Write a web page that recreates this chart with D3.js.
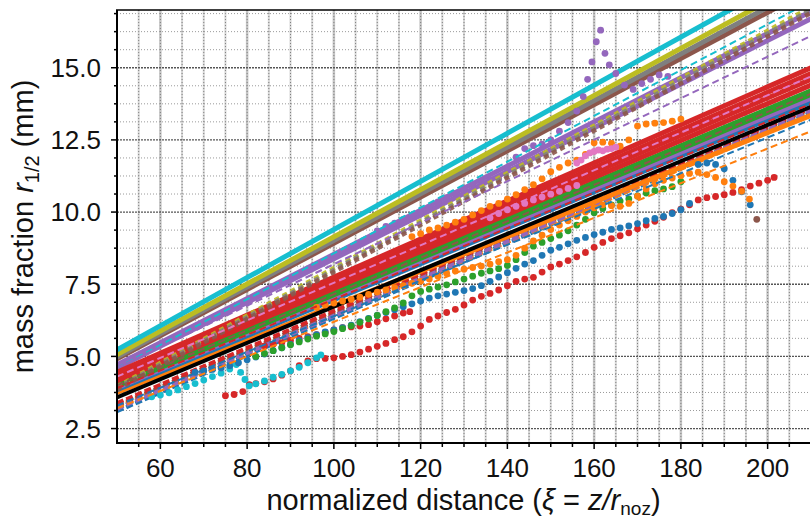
<!DOCTYPE html>
<html>
<head>
<meta charset="utf-8">
<script src="https://cdn.jsdelivr.net/npm/d3@7"></script>
<style>
  body { margin: 0; background: #fff; }
  svg { display: block; }
  text { font-family: "Liberation Sans", Arial, Helvetica, sans-serif; fill: #111; }
</style>
</head>
<body>
<div id="chart"></div>
<script>
// ---- axis ticks ----
const xTicks = [60, 80, 100, 120, 140, 160, 180, 200];
const yTicks = [2.5, 5.0, 7.5, 10.0, 12.5, 15.0];

// ---- straight fits, value of r at xi = 50 and xi = 210 ----
const fitX = [50, 210];
const solidColors = ["#9467bd", "#9467bd", "#8c564b", "#7f7f7f", "#bcbd22", "#17becf",
                     "#ff7f0e", "#1f77b4", "#9467bd", "#2ca02c", "#2ca02c",
                     "#d62728", "#d62728", "#d62728", "#d62728", "#000000"];
const solidStart  = [4.60, 4.71, 4.92, 4.98, 5.06, 5.23,
                     3.75, 3.85, 3.92, 3.98, 4.05,
                     4.15, 4.25, 4.35, 4.45, 3.58];
const solidEnd    = [16.70, 16.95, 17.72, 17.90, 18.12, 18.56,
                     13.35, 13.82, 13.95, 14.08, 14.20,
                     14.40, 14.60, 14.80, 15.00, 13.65];

// thick dashed fits, lower bundle
const thickDashColors = ["#1f77b4", "#2ca02c", "#ff7f0e", "#8c564b", "#d62728", "#9467bd"];
const thickDashStart  = [3.10, 3.20, 3.25, 3.30, 3.38, 3.18];
const thickDashEnd    = [13.45, 13.50, 13.40, 13.55, 13.60, 13.50];

// thick dotted fits, upper bundle
const dotFitColors = ["#bcbd22", "#7f7f7f", "#8c564b"];
const dotFitStart  = [3.95, 3.90, 3.85];
const dotFitEnd    = [17.10, 17.00, 16.90];

// thin dashed fits
const thinDashColors = ["#17becf", "#9467bd", "#1f77b4", "#ff7f0e", "#8c564b", "#e377c2", "#d62728"];
const thinDashStart  = [4.60, 4.60, 3.30, 3.20, 4.00, 4.30, 3.90];
const thinDashEnd    = [17.30, 16.10, 13.20, 12.80, 14.10, 14.70, 13.75];

// ---- measured profiles (xi, r) ----
const redLow = [[75,3.64],[77,3.68],[79,3.78],[80.5,4.02],[82,4.06],[84,4.12],[86,4.22],[88,4.35],[90,4.5],[92,4.68],[94,4.84],[96,4.92],[98,4.93],[100,4.95],[102,5.0],[104,5.06],[106,5.15],[108,5.25],[110,5.35],[112,5.45],[114,5.58],[116,5.68],[118,5.85],[120,6.05],[122,6.28],[124,6.4],[126,6.52],[128,6.63],[130,6.78],[132,6.95],[134,7.08],[136,7.18],[138,7.3],[140,7.45],[142,7.6],[144,7.68],[146,7.74],[148,7.92],[150,8.1],[152,8.2],[154,8.32],[156,8.45],[158,8.6],[160,8.78],[162,8.95],[164,9.08],[166,9.18],[168,9.28],[170,9.42],[172,9.55],[174,9.68],[176,9.82],[178,9.98],[180,10.1],[182,10.25],[184,10.42],[186,10.5],[188,10.54],[190,10.6],[192,10.68],[194,10.78],[196,10.9],[198,11.0],[200,11.1],[201.5,11.2]];
const redHigh = [[84,5.36],[86,5.42],[88,5.48],[90,5.55],[92,5.62],[94,5.68],[96,5.75],[98,5.83],[100,5.92],[102,6.0],[104,6.02],[106,6.05],[108,6.1],[110,6.2],[112,6.3],[114,6.4],[116,6.5],[117.5,6.55]];
const cyanPts = [[58,3.6],[60,3.66],[62,3.74],[64,3.84],[66,3.95],[68,4.06],[70,4.18],[72,4.3],[74,4.42],[76,4.56],[77.5,4.72],[78.5,4.45],[79.5,4.2],[80.5,3.98],[82,4.05],[84,4.15],[86,4.28],[88,4.38],[90,4.5],[92,4.62],[94,4.78],[96,4.95],[97,5.05]];
const bluePts = [[68,4.45],[70,4.5],[72,4.55],[74,4.6],[76,4.68],[78,4.78],[80,4.88],[82,4.98],[84,5.08],[86,5.2],[88,5.3],[90,5.42],[92,5.55],[94,5.65],[96,5.75],[98,5.85],[100,5.92],[102,6.0],[104,6.08],[106,6.2],[108,6.32],[110,6.42],[112,6.52],[114,6.62],[116,6.72],[118,6.82],[120,6.92],[122,7.02],[124,7.1],[126,7.16],[128,7.22],[130,7.28],[132,7.35],[134,7.45],[136,7.6],[138,7.75],[140,7.9],[142,8.05],[144,8.2],[146,8.32],[148,8.5],[150,8.68],[152,8.78],[154,8.9],[156,9.02],[158,9.12],[160,9.22],[162,9.3],[164,9.4],[166,9.45],[168,9.52],[170,9.6],[172,9.7],[174,9.78],[176,9.85],[178,9.95],[180,10.08],[182,10.3],[184,11.65],[186,11.7],[188,11.65],[190,11.5],[192,11.1],[194,10.7],[196,10.25]];
const greenPts = [[82,5.0],[84,5.1],[86,5.2],[88,5.3],[90,5.4],[92,5.5],[94,5.6],[96,5.7],[98,5.78],[100,5.86],[102,5.96],[104,6.06],[106,6.18],[108,6.3],[110,6.42],[112,6.55],[114,6.68],[116,6.85],[118,7.1],[120,7.25],[122,7.33],[124,7.4],[126,7.48],[128,7.58],[130,7.68],[132,7.78],[134,7.88],[136,7.96],[138,8.04],[140,8.15],[142,8.35],[144,8.6],[146,8.82],[148,8.95],[150,9.08],[152,9.2],[154,9.35],[156,9.55],[158,9.75],[160,9.98],[162,10.12],[164,10.25],[166,10.38],[168,10.46],[170,10.56],[172,10.66],[174,10.74],[176,10.8],[178,10.88],[180,11.05]];
const orangeLow = [[96,6.7],[98,6.78],[100,6.85],[102,6.92],[104,6.98],[106,7.05],[108,7.15],[110,7.23],[112,7.3],[114,7.38],[116,7.45],[118,7.53],[120,7.6],[122,7.68],[124,7.78],[126,7.88],[128,7.96],[130,8.02],[132,8.08],[134,8.13],[136,8.2],[138,8.28],[140,8.35],[142,8.5],[144,8.75],[146,9.0],[148,9.2],[150,9.4],[152,9.55],[154,9.7],[156,9.85],[158,10.0],[160,10.15],[162,10.25],[164,10.22],[166,10.2],[168,10.3],[170,10.55],[172,10.8],[174,10.98],[176,11.1],[178,11.18],[180,11.26],[182,11.34],[184,11.38],[186,11.3],[188,11.2],[190,11.05],[192,10.9],[194,10.72],[195.8,10.45]];
const orangeHigh = [[118,9.15],[120,9.25],[122,9.38],[124,9.45],[126,9.55],[128,9.65],[130,9.75],[132,9.9],[134,10.05],[136,10.2],[138,10.3],[140,10.45],[142,10.6],[144,10.78],[146,10.95],[148,11.15],[150,11.4],[152,11.55],[154,11.7],[156,11.8],[158,12.0],[160,12.4],[162,12.42],[164,12.38],[166,12.28],[168,12.5],[170,12.98],[172,13.05],[174,13.08],[176,13.1],[178,13.15],[180,13.22]];
const purplePts = [[110,9.35],[112,9.5],[114,9.62],[116,9.75],[118,9.88],[120,10.0],[122,10.15],[124,10.35],[126,10.5],[128,10.65],[130,10.82],[132,10.95],[134,11.05],[136,11.1],[138,11.15],[140,11.5],[142,11.9],[144,12.2],[146,12.3],[148,12.35],[150,12.5],[152,12.8],[154,13.1],[156,13.5],[157.5,14.0],[158.5,14.6],[159.5,15.2],[160.5,15.9],[161.5,16.3],[162.5,15.5],[163.5,15.1],[165,14.8],[167,14.4],[169,14.25],[171,14.45],[173,14.6],[175,14.75],[177,14.7]];
const pinkLow = [[136,9.8],[138,9.95],[140,10.08],[142,10.2],[144,10.3],[146,10.42],[148,10.52],[150,10.62],[152,10.72],[154,10.82],[156,10.92]];
const pinkHigh = [[156,11.7],[157,11.8],[158,11.95],[159,12.05],[160,12.1],[161,12.15],[162,12.12],[163,12.18],[164,12.2],[165,12.25]];
const brownPts = [[197.5,9.75]];

const scatterSeries = [
  { pts: redLow, color: "#d62728" }, { pts: redHigh, color: "#d62728" },
  { pts: cyanPts, color: "#17becf" }, { pts: bluePts, color: "#1f77b4" },
  { pts: greenPts, color: "#2ca02c" }, { pts: orangeLow, color: "#ff7f0e" },
  { pts: orangeHigh, color: "#ff7f0e" }, { pts: purplePts, color: "#9467bd" },
  { pts: pinkLow, color: "#e377c2" }, { pts: pinkHigh, color: "#e377c2" },
  { pts: brownPts, color: "#8c564b" }
];

// ---- layout ----
const W = 810, H = 522;
const margin = { left: 117, top: 10, right: 0, bottom: 79 };
const x = d3.scaleLinear().domain([50, 210]).range([margin.left, 811]);
const y = d3.scaleLinear().domain([2, 17]).range([H - margin.bottom, margin.top]);

const svg = d3.select("#chart").append("svg").attr("width", W).attr("height", H);
svg.append("defs").append("clipPath").attr("id", "plotClip")
  .append("rect").attr("x", margin.left).attr("y", margin.top)
  .attr("width", W - margin.left).attr("height", H - margin.bottom - margin.top);

// grid
const grid = svg.append("g");
const xMinor = d3.range(55, 210, 5);
const yMinor = d3.range(2.5, 17, 0.625);

grid.selectAll(".vg").data(xMinor).join("line")
  .attr("x1", d => x(d)).attr("x2", d => x(d))
  .attr("y1", margin.top).attr("y2", H - margin.bottom)
  .attr("stroke", d => d % 20 === 0 ? "#c4c4c4" : "#d6d6d6")
  .attr("stroke-width", d => d % 20 === 0 ? 2.5 : 2);
grid.selectAll(".vgd").data(xMinor).join("line")
  .attr("x1", d => x(d)).attr("x2", d => x(d))
  .attr("y1", margin.top).attr("y2", H - margin.bottom)
  .attr("stroke", "#808080").attr("stroke-width", 1).attr("stroke-dasharray", "1,2");
grid.selectAll(".hg").data(yMinor).join("line")
  .attr("x1", margin.left).attr("x2", W)
  .attr("y1", d => y(d)).attr("y2", d => y(d))
  .attr("stroke", d => (d % 2.5 === 0) ? "#555" : "#9a9a9a")
  .attr("stroke-width", d => (d % 2.5 === 0) ? 1.3 : 1)
  .attr("stroke-dasharray", d => (d % 2.5 === 0) ? "2,1" : "1,2");

const plot = svg.append("g").attr("clip-path", "url(#plotClip)");
const fitLine = (a, b) => d3.line()([[x(fitX[0]), y(a)], [x(fitX[1]), y(b)]]);

// thick dashed lower bundle
plot.selectAll(".td").data(thickDashColors).join("path")
  .attr("d", (c, i) => fitLine(thickDashStart[i], thickDashEnd[i]))
  .attr("fill", "none").attr("stroke", c => c).attr("stroke-width", 4)
  .attr("stroke-dasharray", "7,3");

// solid fits
plot.selectAll(".sf").data(solidColors).join("path")
  .attr("d", (c, i) => fitLine(solidStart[i], solidEnd[i]))
  .attr("fill", "none").attr("stroke", c => c)
  .attr("stroke-width", c => c === "#000000" ? 4 : 5);

// measured profiles
scatterSeries.forEach(s => {
  plot.append("g").selectAll("circle").data(s.pts).join("circle")
    .attr("cx", d => x(d[0])).attr("cy", d => y(d[1])).attr("r", 3.4)
    .attr("fill", s.color);
});

// thick dotted upper bundle
plot.selectAll(".dfit").data(dotFitColors).join("path")
  .attr("d", (c, i) => fitLine(dotFitStart[i], dotFitEnd[i]))
  .attr("fill", "none").attr("stroke", c => c).attr("stroke-width", 4.5)
  .attr("stroke-dasharray", "5,4").attr("opacity", 0.9);

// thin dashed fits
plot.selectAll(".tn").data(thinDashColors).join("path")
  .attr("d", (c, i) => fitLine(thinDashStart[i], thinDashEnd[i]))
  .attr("fill", "none").attr("stroke", c => c).attr("stroke-width", 2)
  .attr("stroke-dasharray", "7,4");

// axes frame
const axisG = svg.append("g");
axisG.append("line").attr("x1", margin.left).attr("x2", margin.left)
  .attr("y1", margin.top).attr("y2", H - margin.bottom + 1).attr("stroke", "#000").attr("stroke-width", 2);
axisG.append("line").attr("x1", margin.left - 1).attr("x2", W)
  .attr("y1", H - margin.bottom).attr("y2", H - margin.bottom).attr("stroke", "#000").attr("stroke-width", 2);
axisG.append("line").attr("x1", margin.left - 1).attr("x2", W)
  .attr("y1", margin.top).attr("y2", margin.top).attr("stroke", "#000").attr("stroke-width", 1.5);

// x ticks
axisG.selectAll(".xt").data(xMinor).join("line")
  .attr("x1", d => x(d)).attr("x2", d => x(d))
  .attr("y1", H - margin.bottom).attr("y2", d => H - margin.bottom + (d % 20 === 0 ? 6 : 4))
  .attr("stroke", "#000").attr("stroke-width", 1.5);
axisG.selectAll(".xl").data(xTicks).join("text")
  .attr("x", d => x(d)).attr("y", 477)
  .attr("text-anchor", "middle").style("font-size", "26px")
  .text(d => d);

// y ticks
axisG.selectAll(".yt").data(yMinor).join("line")
  .attr("y1", d => y(d)).attr("y2", d => y(d))
  .attr("x1", margin.left).attr("x2", d => margin.left - (d % 2.5 === 0 ? 6 : 3))
  .attr("stroke", "#000").attr("stroke-width", 1.5);
axisG.selectAll(".yl").data(yTicks).join("text")
  .attr("x", 101).attr("y", d => y(d)).attr("dy", "0.36em")
  .attr("text-anchor", "end").style("font-size", "26px")
  .text(d => d.toFixed(1));

// axis titles
const yTitle = svg.append("text")
  .attr("transform", "translate(33," + ((margin.top + H - margin.bottom) / 2) + ") rotate(-90)")
  .attr("text-anchor", "middle").style("font-size", "29px");
yTitle.append("tspan").text("mass fraction ");
yTitle.append("tspan").style("font-style", "italic").text("r");
yTitle.append("tspan").attr("dy", 6).style("font-size", "20px").text("1/2");
yTitle.append("tspan").attr("dy", -6).text(" (mm)");

const xTitle = svg.append("text")
  .attr("x", (margin.left + W) / 2).attr("y", 510)
  .attr("text-anchor", "middle").style("font-size", "29px");
xTitle.append("tspan").text("normalized distance (");
xTitle.append("tspan").style("font-style", "italic").text("ξ");
xTitle.append("tspan").text(" = ");
xTitle.append("tspan").style("font-style", "italic").text("z/r");
xTitle.append("tspan").attr("dy", 5).style("font-size", "19px").text("noz");
xTitle.append("tspan").attr("dy", -5).text(")");
</script>
</body>
</html>
